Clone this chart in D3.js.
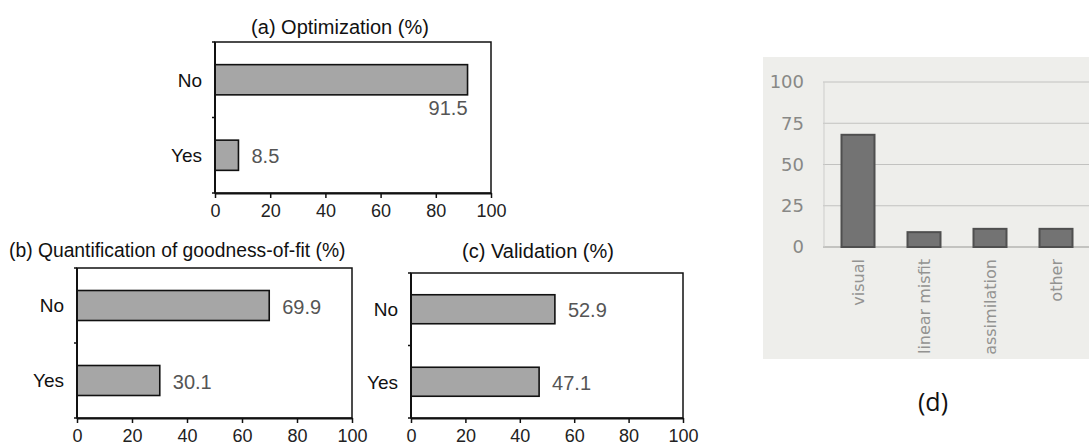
<!DOCTYPE html>
<html>
<head>
<meta charset="utf-8">
<script src="https://cdn.jsdelivr.net/npm/d3@7"></script>
<style>
  html, body { margin: 0; padding: 0; background: #ffffff; }
  svg { display: block; }
</style>
</head>
<body>
<svg id="chart" width="1089" height="446"></svg>
<script>
// ---- data ----
const ynCategories = ["No", "Yes"];
const optimizationValues = [91.5, 8.5];
const goodnessValues = [69.9, 30.1];
const validationValues = [52.9, 47.1];
const percentTicks = [0, 20, 40, 60, 80, 100];
const titleA = "(a) Optimization (%)";
const titleB = "(b) Quantification of goodness-of-fit (%)";
const titleC = "(c) Validation (%)";

const methodCategories = ["visual", "linear misfit", "assimilation", "other"];
const methodValues = [68, 9, 11, 11];
const methodTicks = [0, 25, 50, 75, 100];
const labelD = "(d)";

const svg = d3.select("#chart");
const FONT = "'Liberation Sans', Arial, Helvetica, sans-serif";

function hbarPanel(opts) {
  const { x0, x1, y0, y1, values, title, titleX, titleY, titleAnchor, titleSize, belowIndex } = opts;
  const g = svg.append("g");
  const x = d3.scaleLinear().domain([0, 100]).range([x0, x1]);
  const y = d3.scaleBand().domain(ynCategories).range([y0, y1]).paddingInner(0.6).paddingOuter(0.3);

  // frame
  g.append("rect").attr("x", x0).attr("y", y0).attr("width", x1 - x0).attr("height", y1 - y0)
    .attr("fill", "none").attr("stroke", "#111").attr("stroke-width", 1.5);

  // bars
  g.selectAll("rect.bar").data(ynCategories).enter().append("rect")
    .attr("class", "bar")
    .attr("x", x(0))
    .attr("y", (d) => y(d))
    .attr("width", (d, i) => x(values[i]) - x(0))
    .attr("height", y.bandwidth())
    .attr("fill", "#a6a6a6").attr("stroke", "#111").attr("stroke-width", 1.6);

  // bottom axis
  const xAxis = d3.axisBottom(x).tickValues(percentTicks).tickSize(5).tickSizeOuter(0).tickPadding(6);
  const ax = g.append("g").attr("transform", `translate(0,${y1})`).call(xAxis);
  ax.select(".domain").attr("stroke", "#111").attr("stroke-width", 2);
  ax.selectAll(".tick line").attr("stroke", "#111").attr("stroke-width", 1.5);
  ax.selectAll(".tick text").attr("font-family", FONT).attr("font-size", 18).attr("fill", "#222");

  // left axis
  const step = y.step();
  const boundaries = [y0, y0 + step, y1];
  g.append("line").attr("x1", x0).attr("x2", x0).attr("y1", y0).attr("y2", y1)
    .attr("stroke", "#111").attr("stroke-width", 2);
  g.selectAll("line.ytick").data(boundaries).enter().append("line")
    .attr("x1", x0 - 3).attr("x2", x0).attr("y1", (d) => d).attr("y2", (d) => d)
    .attr("stroke", "#111").attr("stroke-width", 1.5);
  g.selectAll("text.cat").data(ynCategories).enter().append("text")
    .attr("x", x0 - 13).attr("y", (d) => y(d) + y.bandwidth() / 2)
    .attr("dy", "0.36em").attr("text-anchor", "end")
    .attr("font-family", FONT).attr("font-size", 19).attr("fill", "#111")
    .text((d) => d);

  // value labels
  g.selectAll("text.val").data(ynCategories).enter().append("text")
    .attr("x", (d, i) => i === belowIndex ? x(values[i]) : x(values[i]) + 13)
    .attr("y", (d, i) => i === belowIndex ? y(d) + y.bandwidth() + 13 : y(d) + y.bandwidth() / 2 + 1)
    .attr("dy", "0.36em")
    .attr("text-anchor", (d, i) => i === belowIndex ? "end" : "start")
    .attr("font-family", FONT).attr("font-size", 20).attr("fill", "#555")
    .text((d, i) => values[i].toFixed(1));

  // title
  g.append("text").attr("x", titleX).attr("y", titleY).attr("text-anchor", titleAnchor)
    .attr("font-family", FONT).attr("font-size", titleSize).attr("fill", "#111").text(title);
}

hbarPanel({ x0: 215, x1: 491, y0: 42, y1: 193, values: optimizationValues, title: titleA,
  titleX: 340, titleY: 34, titleAnchor: "middle", titleSize: 20, belowIndex: 0 });
hbarPanel({ x0: 77, x1: 352, y0: 268, y1: 418, values: goodnessValues, title: titleB,
  titleX: 9, titleY: 257, titleAnchor: "start", titleSize: 19.3, belowIndex: -1 });
hbarPanel({ x0: 411, x1: 683, y0: 273, y1: 418, values: validationValues, title: titleC,
  titleX: 538, titleY: 258, titleAnchor: "middle", titleSize: 20, belowIndex: -1 });

// ---- panel (d) ----
const gd = svg.append("g");
gd.append("rect").attr("x", 763).attr("y", 57).attr("width", 1089 - 763).attr("height", 302)
  .attr("fill", "#eeeeeb");

const DFONT = "'DejaVu Sans', 'Noto Sans', sans-serif";
const yd = d3.scaleLinear().domain([0, 100]).range([247, 82]);
const xd = d3.scaleBand().domain(methodCategories).range([825, 1089]).paddingInner(0.5).paddingOuter(0.25);

gd.selectAll("line.grid").data(methodTicks).enter().append("line")
  .attr("x1", 823).attr("x2", 1089)
  .attr("y1", (d) => yd(d)).attr("y2", (d) => yd(d))
  .attr("stroke", (d) => d === 0 ? "#b4b4b2" : "#c2c2c0").attr("stroke-width", (d) => d === 0 ? 1.5 : 1);
gd.append("line").attr("x1", 824).attr("x2", 824).attr("y1", yd(100)).attr("y2", yd(0))
  .attr("stroke", "#cdcdcb").attr("stroke-width", 1);

gd.selectAll("text.ytl").data(methodTicks).enter().append("text")
  .attr("x", 804).attr("y", (d) => yd(d)).attr("dy", "0.36em").attr("text-anchor", "end")
  .attr("font-family", DFONT).attr("font-size", 18).attr("fill", "#888886")
  .text((d) => d);

gd.selectAll("rect.mbar").data(methodCategories).enter().append("rect")
  .attr("x", (d) => xd(d))
  .attr("y", (d, i) => yd(methodValues[i]))
  .attr("width", xd.bandwidth())
  .attr("height", (d, i) => yd(0) - yd(methodValues[i]))
  .attr("fill", "#737373").attr("stroke", "#4f4f4f").attr("stroke-width", 2);

gd.selectAll("text.xtl").data(methodCategories).enter().append("text")
  .attr("transform", (d) => `translate(${xd(d) + xd.bandwidth() / 2 + 6},259) rotate(-90)`)
  .attr("text-anchor", "end")
  .attr("font-family", DFONT).attr("font-size", 16).attr("fill", "#939391")
  .text((d) => d);

svg.append("text").attr("x", 933).attr("y", 411).attr("text-anchor", "middle")
  .attr("font-family", "'Open Sans', 'Noto Sans', sans-serif").attr("font-size", 25).attr("fill", "#111")
  .text(labelD);
</script>
</body>
</html>
